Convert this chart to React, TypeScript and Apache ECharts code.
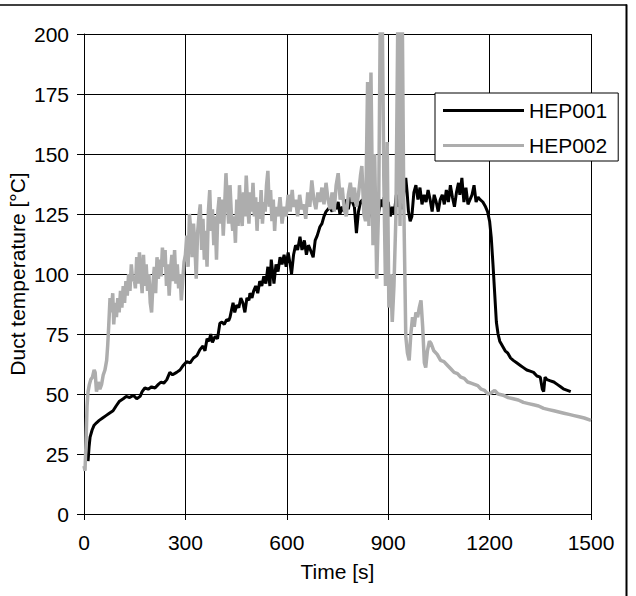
import React, { useEffect, useRef } from "react";
import * as echarts from "echarts";

const xTicks = [0, 300, 600, 900, 1200, 1500];
const yTicks = [0, 25, 50, 75, 100, 125, 150, 175, 200];

const hep001: [number, number][] = [
  [12, 22], [15, 28], [18, 32], [24, 35], [30, 37], [37, 38], [45, 39], [55, 40], [65, 41], [75, 42],
  [86, 43], [95, 45], [105, 47], [116, 48], [125, 49], [135, 48.5], [146, 49.5], [156, 48], [166, 49], [172, 51],
  [180, 52.5], [190, 52], [200, 53], [210, 52.5], [220, 54], [228, 55], [236, 54.5], [245, 56], [254, 59], [262, 58],
  [274, 59], [284, 60], [294, 62], [304, 63.5], [314, 63], [324, 65], [334, 66], [343, 68.5], [352, 70], [358, 68],
  [364, 73], [370, 72], [375, 75], [380, 71.5], [388, 74], [395, 73], [402, 79.5], [408, 80], [415, 79], [422, 81],
  [428, 80.5], [432, 82], [438, 86], [441, 88], [446, 84], [452, 87], [458, 86], [464, 90], [470, 88], [476, 84],
  [482, 90], [488, 89], [491, 92], [497, 90], [502, 93], [508, 95], [514, 92], [520, 97], [526, 95], [532, 99],
  [538, 96], [544, 103], [550, 95], [554, 106], [558, 101], [562, 96], [568, 104], [574, 101], [580, 107], [586, 104],
  [592, 108], [598, 103], [604, 109], [610, 104], [614, 100], [620, 108], [626, 112], [632, 110], [639, 115.5], [645, 110],
  [652, 114], [658, 108], [664, 112], [670, 110], [678, 107], [684, 114], [690, 116], [698, 119.7], [704, 121], [710, 124],
  [716, 126], [722, 127], [728, 128], [734, 126], [740, 129], [746, 127], [752, 130], [757, 125], [764, 128], [770, 126],
  [776, 131], [782, 127], [788, 132], [794, 130], [800, 128], [806, 117], [812, 126], [818, 130], [824, 131], [830, 126],
  [836, 129], [842, 124], [848, 127], [855, 122], [860, 128], [866, 120], [872, 126], [878, 131], [884, 128], [888, 132],
  [894, 126], [900, 130], [906, 124], [912, 128], [918, 125], [924, 133], [930, 128], [936, 131], [942, 127], [948, 136],
  [952, 140], [956, 134], [960, 126], [965, 122], [970, 124], [976, 134], [982, 137], [988, 131], [994, 136], [1000, 129],
  [1006, 133], [1012, 130], [1018, 135], [1024, 131], [1030, 126], [1036, 133], [1042, 130], [1048, 126], [1054, 131], [1060, 133],
  [1066, 129], [1072, 135], [1078, 130], [1084, 137], [1090, 132], [1096, 128], [1102, 134], [1108, 138], [1112, 133], [1118, 140],
  [1124, 130], [1130, 136], [1136, 129], [1142, 131], [1148, 133], [1154, 137], [1160, 130], [1166, 132], [1172, 131], [1180, 130],
  [1188, 128], [1194, 126], [1200, 122], [1205, 115], [1210, 104], [1215, 92], [1220, 80], [1225, 75], [1230, 72], [1238, 70],
  [1246, 68], [1254, 67], [1262, 65], [1270, 64], [1280, 63], [1290, 62], [1300, 61], [1310, 60], [1320, 59.5], [1330, 59],
  [1340, 57.5], [1350, 57], [1356, 52], [1360, 51], [1364, 57], [1370, 56], [1380, 55.5], [1390, 55], [1400, 54], [1410, 53],
  [1420, 52], [1430, 51.5], [1440, 51],
];

const hep002: [number, number][] = [
  [0, 20], [3, 18], [6, 30], [9, 45], [12, 51], [16, 54], [20, 56], [25, 57], [30, 60], [33, 59],
  [37, 51], [42, 55], [47, 52], [52, 54], [57, 58], [62, 60], [67, 64], [70, 70], [73, 78], [77, 90],
  [81, 84], [85, 92], [88, 79], [92, 88], [96, 82], [100, 90], [104, 84], [108, 93], [112, 86], [116, 95],
  [120, 88], [124, 97], [128, 91], [132, 100], [136, 93], [140, 104], [144, 97], [148, 99], [152, 94], [156, 107],
  [160, 96], [164, 109], [168, 100], [172, 92], [176, 108], [180, 95], [184, 104], [188, 93], [192, 100], [196, 88],
  [200, 84], [204, 96], [208, 103], [212, 92], [216, 107], [220, 98], [224, 106], [228, 99], [232, 111], [236, 103],
  [240, 110], [244, 95], [248, 104], [252, 91], [256, 102], [260, 108], [264, 97], [268, 110], [272, 96], [276, 104],
  [280, 94], [284, 100], [288, 89], [292, 97], [296, 105], [300, 108], [304, 116], [308, 103], [312, 125], [316, 118],
  [320, 107], [324, 121], [328, 112], [332, 98], [336, 117], [340, 124], [344, 129], [348, 110], [352, 123], [356, 106],
  [360, 118], [364, 103], [368, 126], [372, 135], [376, 118], [380, 127], [384, 112], [388, 124], [392, 106], [396, 126],
  [400, 132], [404, 121], [408, 131], [412, 116], [416, 128], [420, 142], [424, 130], [428, 121], [432, 137], [436, 125],
  [440, 118], [444, 124], [448, 113], [452, 131], [456, 120], [460, 137], [464, 126], [468, 120], [472, 134], [476, 124],
  [480, 141], [484, 129], [488, 121], [492, 134], [496, 126], [500, 138], [504, 124], [508, 132], [512, 118], [516, 130],
  [520, 123], [524, 135], [528, 121], [532, 130], [536, 126], [540, 137], [544, 143], [548, 128], [552, 135], [556, 122],
  [560, 131], [564, 118], [568, 128], [574, 124], [580, 132], [586, 121], [592, 128], [598, 124], [604, 133], [610, 126],
  [616, 135], [620, 128], [626, 131], [632, 124], [638, 133], [644, 127], [650, 129], [656, 123], [662, 134], [668, 128],
  [674, 139], [680, 131], [686, 127], [692, 134], [698, 130], [704, 136], [710, 129], [716, 138], [722, 131], [728, 127],
  [734, 134], [740, 126], [746, 137], [752, 142], [758, 131], [764, 136], [770, 127], [776, 124], [782, 133], [788, 138],
  [794, 130], [800, 136], [806, 128], [812, 133], [818, 141], [822, 145], [828, 125], [833, 122], [839, 180], [843, 120],
  [849, 184], [855, 112], [860, 150], [866, 98], [872, 130], [877, 215], [882, 215], [887, 140], [892, 95], [897, 155],
  [902, 86], [907, 100], [912, 80], [917, 95], [923, 125], [929, 215], [935, 120], [941, 220], [946, 130], [952, 74],
  [957, 67], [962, 64], [967, 75], [972, 82], [977, 78], [982, 84], [987, 82], [992, 86], [997, 89], [1002, 78],
  [1007, 63], [1011, 61], [1016, 68], [1022, 72], [1027, 71], [1035, 68], [1045, 66.5], [1055, 64], [1065, 63.5], [1075, 62],
  [1085, 60.5], [1095, 59], [1105, 58.5], [1115, 57], [1125, 56.5], [1135, 55], [1145, 54.5], [1155, 54], [1165, 53.5], [1175, 52],
  [1185, 51.5], [1195, 50], [1205, 50.5], [1215, 51.5], [1225, 50], [1240, 49.5], [1255, 48.5], [1270, 48], [1285, 47.5], [1300, 46.5],
  [1315, 46], [1330, 45.5], [1345, 45], [1360, 44], [1375, 43.5], [1390, 43], [1405, 42.5], [1420, 42], [1435, 41.5], [1450, 41],
  [1465, 40.5], [1480, 40], [1500, 39],
];

const FONT = "'Liberation Sans', Arial, sans-serif";
const FS = 21;

export default function App() {
  const ref = useRef<HTMLDivElement>(null);
  useEffect(() => {
    if (!ref.current) return;
    const chart = echarts.init(ref.current, undefined, { renderer: "svg" });
    chart.setOption({
      animation: false,
      backgroundColor: "#ffffff",
      textStyle: { fontFamily: FONT },
      grid: { left: 84, top: 34, width: 507, height: 480, containLabel: false, outerBoundsMode: "none" },
      xAxis: {
        type: "value",
        min: xTicks[0],
        max: xTicks[xTicks.length - 1],
        interval: 300,
        name: "Time [s]",
        nameLocation: "middle",
        nameGap: 47,
        nameMoveOverlap: false,
        nameTextStyle: { fontSize: FS, color: "#000", fontFamily: FONT },
        axisLine: { show: true, lineStyle: { color: "#000", width: 1 } },
        axisTick: { show: true, inside: false, length: 6, lineStyle: { color: "#000" } },
        axisLabel: { fontSize: FS, color: "#000", margin: 18, fontFamily: FONT, formatter: (v: number) => String(v) },
        splitLine: { show: true, lineStyle: { color: "#000", width: 1 } },
      },
      yAxis: {
        type: "value",
        min: yTicks[0],
        max: yTicks[yTicks.length - 1],
        interval: 25,
        name: "Duct temperature [°C]",
        nameLocation: "middle",
        nameGap: 56,
        nameMoveOverlap: false,
        nameTextStyle: { fontSize: FS, color: "#000", fontFamily: FONT },
        axisLine: { show: true, lineStyle: { color: "#000", width: 1 } },
        axisTick: { show: true, inside: false, length: 7, lineStyle: { color: "#000" } },
        axisLabel: { fontSize: FS, color: "#000", margin: 15, fontFamily: FONT, formatter: (v: number) => String(v) },
        splitLine: { show: true, lineStyle: { color: "#000", width: 1 } },
      },
      legend: {
        orient: "vertical",
        left: 435,
        top: 93,
        backgroundColor: "#fff",
        borderColor: "#000",
        borderWidth: 1,
        padding: [7, 11, 5, 8],
        itemGap: 14,
        itemWidth: 81,
        itemHeight: 3,
        icon: "rect",
        textStyle: { fontSize: FS, color: "#000", fontFamily: FONT },
        data: ["HEP001", "HEP002"],
      },
      series: [
        {
          name: "HEP001",
          type: "line",
          data: hep001,
          showSymbol: false,
          symbol: "none",
          lineStyle: { color: "#000", width: 3 },
          itemStyle: { color: "#000" },
          z: 3,
        },
        {
          name: "HEP002",
          type: "line",
          data: hep002,
          showSymbol: false,
          symbol: "none",
          lineStyle: { color: "#adadad", width: 3.5 },
          itemStyle: { color: "#adadad" },
          z: 4,
        },
      ],
      graphic: [
        { type: "line", shape: { x1: 0, y1: 5, x2: 627, y2: 5 }, style: { stroke: "#000", lineWidth: 1.5 }, silent: true },
        { type: "line", shape: { x1: 626.5, y1: 4.5, x2: 626.5, y2: 596 }, style: { stroke: "#000", lineWidth: 2 }, silent: true },
      ],
    });
    return () => chart.dispose();
  }, []);
  return (
    <div
      ref={ref}
      style={{ position: "fixed", left: 0, top: 0, width: 636, height: 596, background: "#fff" }}
    />
  );
}
